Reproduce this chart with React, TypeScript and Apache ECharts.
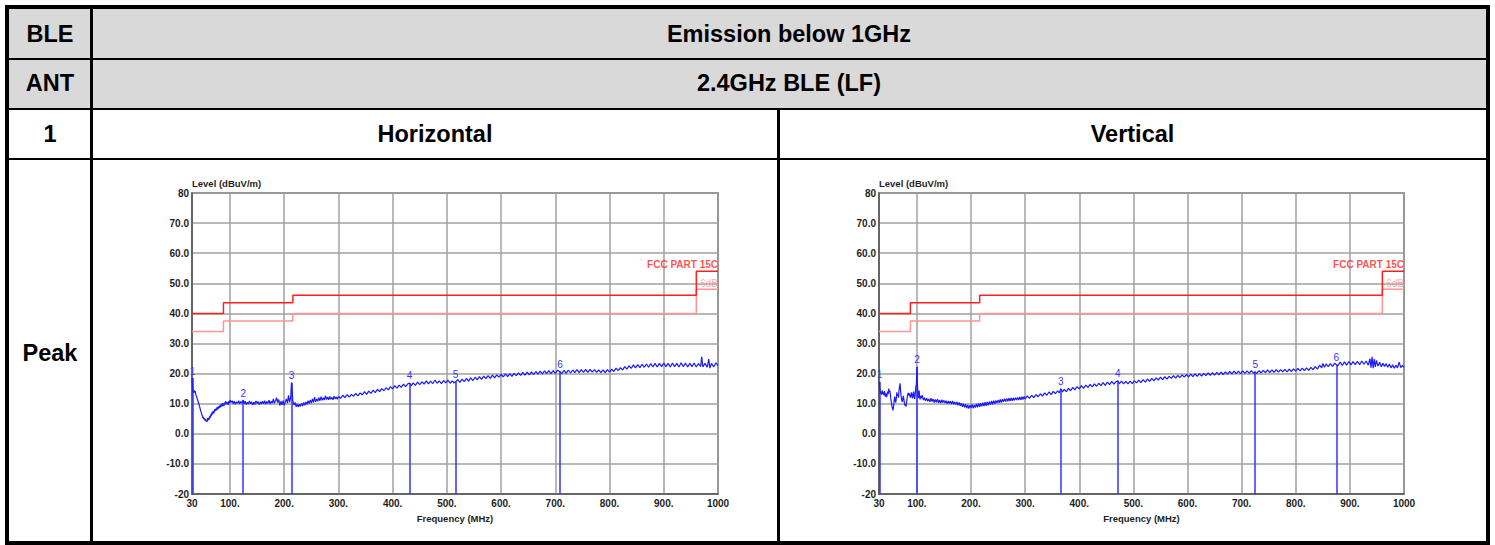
import React, { useEffect, useRef } from "react";
import * as echarts from "echarts";

// ---------- data ----------
const LIMIT_FREQ = [30, 88, 88, 216, 216, 960, 960, 1000];
const LIMIT_LEVEL = [40, 40, 43.5, 43.5, 46, 46, 54, 54];
const MARGIN_LEVEL = [34, 34, 37.5, 37.5, 40, 40, 48, 48];
const LIMIT_NAME = "FCC PART 15C";
const MARGIN_NAME = "-6dB";

const Y_MIN = -20;
const Y_MAX = 80;
const X_MIN = 30;
const X_MAX = 1000;

// Horizontal trace [MHz, dBuV/m]
const H_TRACE: [number, number][] = [
  [30,18.5],[31,15.6],[32,14.2],[33,13.6],[34,14.4],[35,13.8],[36,14.2],[37,13.0],[38,12.6],[39,12.0],[40,11.4],[41,11.0],[42,10.2],[43,9.8],[44,9.0],[45,8.4],[46,7.6],[47,7.2],[48,6.4],[49,6.0],[50,5.2],[51,5.6],[52,4.8],[53,5.2],[54,4.4],[55,4.9],[56,4.1],[57,4.6],[58,4.0],[59,5.2],[60,4.5],[61,5.4],[62,4.8],[63,6.0],[64,5.4],[65,6.6],[66,6.0],[67,7.2],[68,6.5],[69,7.6],[70,6.8],[71,7.4],[72,8.2],[73,7.5],[74,8.4],[75,7.8],[76,8.8],[77,8.0],[78,9.0],[79,8.4],[80,9.2],[81,8.6],[82,9.6],[83,8.9],[84,9.8],[85,9.0],[86,10.2],[87,9.4],[88,10.0],[89,9.2],[90,10.4],[91,9.8],[92,10.8],[93,10.0],[94,10.6],[95,9.7],[96,10.4],[97,9.6],[98,10.9],[99,10.2],[100,11.2],[102,10.4],[104,11.0],[106,10.0],[108,10.8],[110,9.8],[112,10.6],[114,10.1],[116,11.0],[118,9.9],[120,10.7],[122,10.2],[124.4,11.2],[126,10.0],[128,10.8],[130,9.7],[132,10.5],[134,9.9],[136,10.9],[138,10.0],[140,10.6],[142,9.6],[144,10.5],[146,9.8],[148,10.9],[150,10.1],[152,10.7],[154,9.7],[156,10.6],[158,9.9],[160,10.8],[162,10.0],[164,11.0],[166,9.8],[168,10.7],[170,10.1],[172,11.2],[174,9.9],[176,10.8],[178,10.2],[180,11.6],[182,10.1],[184,11.0],[186,12.0],[188,10.4],[190,11.4],[192,9.4],[194,10.8],[196,9.6],[198,11.0],[200,9.5],[202,10.6],[204,11.6],[206,10.2],[208,12.8],[210,10.4],[212,12.2],[213.5,17.0],[215,13.4],[216,10.8],[218,9.6],[220,10.4],[222,9.0],[224,9.9],[226,8.9],[228,9.8],[230,9.1],[232,10.1],[234,9.2],[236,10.4],[238,9.5],[240,10.6],[242,9.8],[244,11.0],[246,10.0],[248,11.2],[250,10.2],[252,11.6],[254,10.4],[256,12.2],[258,10.6],[260,11.6],[262,10.8],[264,12.0],[266,11.0],[268,12.3],[270,11.1],[272,12.0],[274,11.2],[276,12.6],[278,11.4],[280,12.2],[282,11.3],[284,12.4],[286,11.5],[288,12.1],[290,11.3],[292,12.5],[294,11.6],[296,12.2],[298,11.5],[300,12.4],
  [304,11.8],[308,12.8],[312,12.0],[316,13.0],[320,12.2],[324,13.1],[328,12.5],[332,13.4],[336,12.6],[340,13.6],[344,12.9],[348,14.0],[352,13.1],[356,14.2],[360,13.4],[364,14.5],[368,13.7],[372,14.8],[376,14.0],[380,15.0],[384,14.3],[388,15.3],[392,14.6],[396,15.7],[400,14.9],[404,16.0],[408,15.2],[412,16.2],[416,15.4],[420,16.5],[424,15.7],[428,16.6],[431,16.9],[434,15.9],[438,16.9],[442,16.1],[446,17.2],[450,16.3],[454,17.3],[458,16.5],[462,17.6],[466,16.6],[470,17.5],[474,16.7],[478,17.8],[482,16.8],[486,17.6],[490,16.7],[494,17.7],[498,16.9],[502,17.8],[506,16.8],[510,17.6],[513,16.9],[516,17.3],[520,18.0],[524,17.1],[528,18.2],[532,17.3],[536,18.4],[540,17.5],[544,18.6],[548,17.7],[552,18.8],[556,17.9],[560,19.0],[564,18.1],[568,19.2],[572,18.3],[576,19.3],[580,18.4],[584,19.5],[588,18.6],[592,19.6],[596,18.8],[600,19.7],[604,18.9],[608,19.9],[612,19.0],[616,20.0],[620,19.1],[624,20.1],[628,19.3],[632,20.2],[636,19.4],[640,20.4],[644,19.5],[648,20.5],[652,19.6],[656,20.6],[660,19.7],[664,20.7],[668,19.8],[672,20.8],[676,19.9],[680,20.9],[684,20.0],[688,21.0],[692,20.0],[696,21.0],[700,20.1],[704,21.1],[708.6,20.6],[712,20.0],[716,21.1],[720,20.1],[724,21.2],[728,20.2],[732,21.2],[736,20.3],[740,21.3],[744,20.3],[748,21.3],[752,20.4],[756,21.4],[760,20.4],[764,21.4],[768,20.5],[772,21.3],[776,20.4],[780,21.2],[784,20.3],[788,21.2],[792,20.3],[796,21.3],[800,20.5],[804,21.5],[808,20.7],[812,21.8],[816,21.0],[820,22.0],[824,21.2],[828,22.3],[832,21.5],[836,22.6],[840,21.7],[844,22.9],[848,21.9],[852,23.0],[856,22.0],[860,23.1],[864,22.1],[868,23.2],[872,22.1],[876,23.3],[880,22.2],[884,23.4],[888,22.2],[892,23.4],[896,22.3],[900,23.5],[904,22.3],[908,23.4],[912,22.2],[916,23.5],[920,22.3],[924,23.4],[928,22.2],[932,23.6],[936,22.3],[940,23.5],[944,22.2],[948,23.4],[952,22.3],[956,23.5],[960,22.2],[964,23.3],[968,22.4],[970,25.6],[972,22.2],[976,23.4],[980,22.1],[983,24.8],[985,21.8],[988,23.4],[992,22.2],[996,23.6],[1000,22.6]
];

// Vertical trace [MHz, dBuV/m]
const V_TRACE: [number, number][] = [
  [30,17.3],[31,16.0],[32,14.2],[33,13.4],[34,14.0],[35,13.0],[36,14.4],[37,13.2],[38,13.8],[39,12.8],[40,14.2],[41,13.0],[42,12.4],[43,13.4],[44,12.2],[45,13.0],[46,14.0],[47,13.2],[48,15.0],[49,13.8],[50,14.4],[51,13.0],[52,11.4],[53,10.2],[54,9.0],[55,8.4],[56,7.8],[57,9.4],[58,11.0],[59,12.4],[60,11.2],[61,10.4],[62,11.8],[63,13.8],[64,12.6],[65,13.2],[66,12.0],[67,14.4],[68,15.6],[69,16.8],[70,14.0],[71,12.4],[72,11.2],[73,10.6],[74,11.8],[75,12.6],[76,11.4],[77,10.2],[78,9.4],[79,9.8],[80,9.0],[81,10.6],[82,11.8],[83,13.0],[84,13.6],[85,12.8],[86,13.4],[87,12.6],[88,12.0],[89,13.0],[90,13.8],[91,12.4],[92,11.8],[93,13.2],[94,14.0],[95,12.2],[96,11.6],[97,13.4],[98,15.6],[99,16.4],[100.2,22.3],[101,16.6],[102,13.0],[103,11.8],[104,14.4],[105,12.6],[106,11.4],[107,12.6],[108,11.8],[110,12.8],[112,11.2],[114,12.0],[116,11.0],[118,11.8],[120,10.8],[122,11.6],[124,10.6],[126,11.8],[128,10.7],[130,11.6],[132,10.4],[134,11.4],[136,10.5],[138,11.5],[140,10.3],[142,11.2],[144,10.2],[146,11.3],[148,10.4],[150,11.1],[152,10.2],[154,11.0],[156,10.0],[158,10.9],[160,10.1],[162,10.8],[164,9.9],[166,10.9],[168,9.8],[170,10.6],[172,9.7],[174,10.6],[176,9.5],[178,10.4],[180,9.3],[182,10.2],[184,9.0],[186,10.0],[188,8.8],[190,9.8],[192,8.5],[194,9.6],[196,8.4],[198,9.5],[200,8.6],[202,9.8],[204,8.5],[206,9.6],[208,8.7],[210,9.9],[212,8.8],[214,10.1],[216,9.0],[218,10.2],[220,9.1],[222,10.3],[224,9.2],[226,10.5],[228,9.3],[230,10.6],[232,9.5],[234,10.7],[236,9.7],[238,10.9],[240,9.8],[242,11.0],[244,10.0],[246,11.1],[248,10.2],[250,11.2],[252,10.3],[254,11.4],[256,10.4],[258,11.5],[260,10.6],[262,11.7],[264,10.7],[266,11.7],[268,10.8],[270,11.8],[272,10.9],[274,11.9],[276,11.0],[278,11.9],[280,11.1],[282,12.0],[284,11.2],[286,12.1],[288,11.2],[290,12.2],[292,11.3],[294,12.3],[296,11.4],[298,12.4],[300,11.6],
  [304,12.6],[308,11.8],[312,12.8],[316,12.0],[320,13.0],[324,12.3],[328,13.3],[332,12.5],[336,13.6],[340,12.8],[344,13.9],[348,13.0],[352,14.1],[356,13.3],[360,14.3],[363,13.6],[366,15.0],[369,13.9],[372,14.8],[376,14.0],[380,15.1],[384,14.3],[388,15.4],[392,14.6],[396,15.7],[400,14.9],[404,16.0],[408,15.1],[412,16.2],[416,15.4],[420,16.4],[424,15.6],[428,16.6],[432,15.8],[436,16.8],[440,16.0],[444,17.0],[448,16.1],[452,17.2],[456,16.3],[460,17.4],[464,16.5],[468,17.3],[471,17.6],[474,16.6],[478,17.5],[482,16.6],[486,17.4],[490,16.6],[494,17.5],[498,16.7],[502,17.6],[506,16.9],[510,17.8],[514,17.0],[518,18.0],[522,17.2],[526,18.2],[530,17.4],[534,18.4],[538,17.6],[542,18.6],[546,17.8],[550,18.8],[554,18.0],[558,19.0],[562,18.2],[566,19.1],[570,18.4],[574,19.3],[578,18.5],[582,19.4],[586,18.7],[590,19.6],[594,18.8],[598,19.7],[602,18.9],[606,19.8],[610,19.0],[614,19.9],[618,19.1],[622,20.0],[626,19.2],[630,20.1],[634,19.3],[638,20.2],[642,19.4],[646,20.3],[650,19.5],[654,20.4],[658,19.6],[662,20.5],[666,19.7],[670,20.6],[674,19.8],[678,20.7],[682,19.9],[686,20.8],[690,20.0],[694,20.8],[698,20.0],[702,20.9],[706,20.1],[710,20.9],[714,20.1],[718,21.0],[722,20.1],[725,20.6],[728,20.0],[732,21.0],[736,20.2],[740,21.1],[744,20.3],[748,21.2],[752,20.3],[756,21.2],[760,20.4],[764,21.3],[768,20.5],[772,21.3],[776,20.6],[780,21.4],[784,20.6],[788,21.5],[792,20.7],[796,21.6],[800,20.8],[804,21.7],[808,20.9],[812,21.8],[816,21.0],[820,21.9],[824,21.1],[828,22.1],[832,21.3],[836,22.3],[840,21.5],[844,22.8],[848,21.9],[850,23.4],[853,22.1],[856,23.2],[860,22.3],[864,23.3],[868,22.4],[872,23.5],[875,22.9],[878,22.6],[882,23.8],[886,22.7],[890,23.9],[894,22.8],[898,24.0],[902,22.9],[906,24.0],[910,23.0],[914,24.1],[918,23.0],[922,24.2],[926,23.1],[930,24.2],[934,22.8],[937,25.0],[939,22.0],[941,25.6],[943,21.8],[945,24.8],[947,22.2],[949,24.4],[952,22.5],[955,23.8],[958,22.3],[961,23.4],[964,22.4],[967,23.3],[970,22.1],[973,23.2],[976,21.9],[979,22.9],[982,21.8],[985,22.8],[988,21.9],[991,23.8],[994,22.0],[997,22.7],[1000,22.1]
];

const H_MARK_FREQ = [30.8, 124.4, 213.5, 431, 516, 708.6];
const H_MARK_LEVEL = [18.5, 11.2, 17.0, 16.9, 17.3, 20.6];
const V_MARK_FREQ = [30.8, 100.2, 366, 471, 725, 875];
const V_MARK_LEVEL = [17.3, 22.3, 15.0, 17.6, 20.6, 22.9];

// ---------- styles ----------
const FONT = "'Liberation Sans', Arial, sans-serif";
const AXIS_TEXT = "#1e1e1e";
const GRID_COLOR = "#a0a0a0";
const FRAME_COLOR = "#555555";
const TRACE_COLOR = "#1a1aff";
const MARK_COLOR = "#3535ff";
const LIMIT_COLOR = "#ff1f1f";
const MARGIN_COLOR = "#ff9494";

const GRIDS = [
  { left: 192, top: 193, width: 526, height: 301 },
  { left: 879, top: 193, width: 525, height: 301 },
];

function buildSeries(i: number, trace: [number, number][], mf: number[], ml: number[]) {
  const limitData = LIMIT_FREQ.map((f, k) => [f, LIMIT_LEVEL[k]]);
  const marginData = LIMIT_FREQ.map((f, k) => [f, MARGIN_LEVEL[k]]);
  const lastF = LIMIT_FREQ[LIMIT_FREQ.length - 1];
  return [
    {
      type: "line",
      xAxisIndex: i,
      yAxisIndex: i,
      data: marginData,
      showSymbol: false,
      silent: true,
      lineStyle: { color: MARGIN_COLOR, width: 1.5 },
      z: 2,
    },
    {
      type: "line",
      xAxisIndex: i,
      yAxisIndex: i,
      data: limitData,
      showSymbol: false,
      silent: true,
      lineStyle: { color: LIMIT_COLOR, width: 1.5 },
      z: 3,
    },
    {
      type: "scatter",
      xAxisIndex: i,
      yAxisIndex: i,
      symbolSize: 0.1,
      itemStyle: { color: "rgba(0,0,0,0)" },
      silent: true,
      data: [
        {
          value: [lastF, LIMIT_LEVEL[LIMIT_LEVEL.length - 1]],
          label: {
            show: true,
            position: "top",
            align: "right",
            distance: 2,
            formatter: LIMIT_NAME,
            color: LIMIT_COLOR,
            fontWeight: "bold",
            fontSize: 10,
            fontFamily: FONT,
          },
        },
        {
          value: [lastF, MARGIN_LEVEL[MARGIN_LEVEL.length - 1]],
          label: {
            show: true,
            position: "top",
            align: "right",
            distance: 1,
            formatter: MARGIN_NAME,
            color: MARGIN_COLOR,
            fontSize: 10,
            fontFamily: FONT,
          },
        },
      ],
      z: 4,
    },
    {
      type: "line",
      xAxisIndex: i,
      yAxisIndex: i,
      data: trace,
      showSymbol: false,
      silent: true,
      lineStyle: { color: TRACE_COLOR, width: 1.2 },
      z: 5,
      markLine: {
        silent: true,
        symbol: ["none", "none"],
        lineStyle: { color: MARK_COLOR, width: 1.5, type: "solid" },
        label: {
          show: true,
          position: "end",
          distance: 2,
          formatter: (p: any) => p.name,
          color: MARK_COLOR,
          fontSize: 10,
          fontFamily: FONT,
        },
        data: mf.map((f, k) => [
          { coord: [f, Y_MIN], name: String(k + 1) },
          { coord: [f, ml[k]] },
        ]),
      },
    },
  ];
}

const xLabel = (v: number) => (v === X_MIN ? "30" : v === X_MAX ? "1000" : v + ".");
const yLabel = (v: number) => (v === Y_MAX || v === Y_MIN ? String(v) : v.toFixed(1));

function buildOption() {
  return {
    animation: false,
    grid: GRIDS.map((g) => ({
      ...g,
      show: true,
      borderColor: FRAME_COLOR,
      borderWidth: 1.5,
      backgroundColor: "rgba(0,0,0,0)",
    })),
    xAxis: GRIDS.map((_, i) => ({
      type: "value",
      gridIndex: i,
      min: X_MIN,
      max: X_MAX,
      splitNumber: 10,
      name: "Frequency (MHz)",
      nameLocation: "middle",
      nameGap: 19,
      nameTextStyle: { fontFamily: FONT, fontWeight: "bold", fontSize: 9.5, color: AXIS_TEXT },
      axisLine: { show: true, onZero: false, lineStyle: { color: FRAME_COLOR, width: 1.5 } },
      axisTick: { show: false },
      axisLabel: {
        formatter: xLabel,
        fontFamily: FONT,
        fontWeight: "bold",
        fontSize: 10,
        color: AXIS_TEXT,
        margin: 4,
        showMinLabel: true,
        showMaxLabel: true,
      },
      splitLine: { show: true, lineStyle: { color: GRID_COLOR, width: 1.5 } },
    })),
    yAxis: GRIDS.map((_, i) => ({
      type: "value",
      gridIndex: i,
      min: Y_MIN,
      max: Y_MAX,
      interval: 10,
      name: "Level (dBuV/m)",
      nameLocation: "end",
      nameGap: 2,
      nameTextStyle: {
        fontFamily: FONT,
        fontWeight: "bold",
        fontSize: 9.5,
        color: AXIS_TEXT,
        align: "left",
        verticalAlign: "bottom",
      },
      axisLine: { show: true, onZero: false, lineStyle: { color: FRAME_COLOR, width: 1.5 } },
      axisTick: { show: false },
      axisLabel: {
        formatter: yLabel,
        fontFamily: FONT,
        fontWeight: "bold",
        fontSize: 10,
        color: AXIS_TEXT,
        margin: 3,
      },
      splitLine: { show: true, lineStyle: { color: GRID_COLOR, width: 1.5 } },
    })),
    series: [
      ...buildSeries(0, H_TRACE, H_MARK_FREQ, H_MARK_LEVEL),
      ...buildSeries(1, V_TRACE, V_MARK_FREQ, V_MARK_LEVEL),
    ],
  };
}

// ---------- table ----------
const CELL_FONT = "'Liberation Sans', Arial, sans-serif";

function Cell(props: { x: number; y: number; w: number; h: number; text: string }) {
  const { x, y, w, h, text } = props;
  return (
    <div
      style={{
        position: "absolute",
        left: x,
        top: y,
        width: w,
        height: h,
        display: "flex",
        alignItems: "center",
        justifyContent: "center",
        fontFamily: CELL_FONT,
        fontWeight: "bold",
        fontSize: 23.5,
        color: "#000",
      }}
    >
      {text}
    </div>
  );
}

function Bar(props: { x: number; y: number; w: number; h: number }) {
  return (
    <div
      style={{
        position: "absolute",
        left: props.x,
        top: props.y,
        width: props.w,
        height: props.h,
        background: "#000",
      }}
    />
  );
}

export default function App() {
  const ref = useRef<HTMLDivElement>(null);
  useEffect(() => {
    if (!ref.current) return;
    const chart = echarts.init(ref.current, undefined, { renderer: "svg" });
    chart.setOption(buildOption() as any);
    return () => chart.dispose();
  }, []);

  return (
    <div
      style={{
        position: "absolute",
        left: 0,
        top: 0,
        width: 1495,
        height: 545,
        background: "#fff",
        overflow: "hidden",
      }}
    >
      <div style={{ position: "absolute", left: 9, top: 9, width: 1477, height: 99, background: "#d9d9d9" }} />
      <Cell x={9} y={10} w={82} h={49} text="BLE" />
      <Cell x={92} y={10} w={1394} h={49} text="Emission below 1GHz" />
      <Cell x={9} y={59} w={82} h={49} text="ANT" />
      <Cell x={92} y={59} w={1394} h={49} text="2.4GHz BLE (LF)" />
      <Cell x={9} y={110} w={82} h={48} text="1" />
      <Cell x={92} y={110} w={686} h={48} text="Horizontal" />
      <Cell x={779} y={110} w={707} h={48} text="Vertical" />
      <Cell x={9} y={160} w={82} h={386} text="Peak" />

      <Bar x={9} y={58} w={1477} h={1.5} />
      <Bar x={9} y={107.5} w={1477} h={2.5} />
      <Bar x={9} y={157.5} w={1477} h={2.5} />
      <Bar x={90} y={9} w={2.5} h={533} />
      <Bar x={777} y={108} w={2.5} h={434} />

      <div
        style={{
          position: "absolute",
          left: 5,
          top: 5,
          width: 1485,
          height: 540,
          border: "4px solid #000",
          boxSizing: "border-box",
        }}
      />

      <div ref={ref} style={{ position: "absolute", left: 0, top: 0, width: 1495, height: 545 }} />
    </div>
  );
}
